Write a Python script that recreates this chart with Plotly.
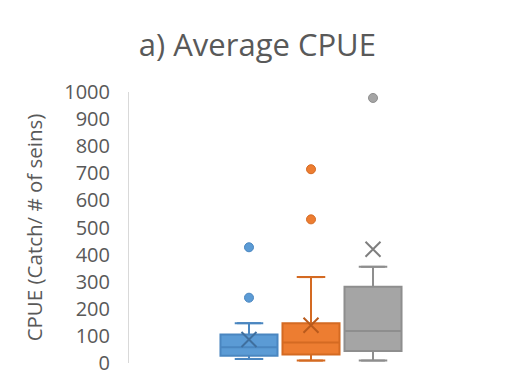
import plotly.graph_objects as go

# Data
series = ["Series 1", "Series 2", "Series 3"]
positions = [0, 1, 2]
q1 = [27, 31, 44]
median = [58, 76, 118]
q3 = [105, 147, 281]
lowerfence = [15, 9, 9]
upperfence = [147, 317, 355]
means = [87, 139, 420]
outliers = [[241, 427], [530, 715], [978]]

fills = ["#5B9BD5", "#ED7D31", "#A5A5A5"]
borders = ["#4A86C0", "#D46A22", "#8E8E8E"]
mean_colors = ["#3F6F9E", "#B95A1C", "#7F7F7F"]

fig = go.Figure()
for i in range(3):
    fig.add_trace(go.Box(
        x=[positions[i]], q1=[q1[i]], median=[median[i]], q3=[q3[i]],
        lowerfence=[lowerfence[i]], upperfence=[upperfence[i]],
        fillcolor=fills[i], line=dict(color=borders[i], width=2),
        width=0.92, boxpoints=False, name=series[i], showlegend=False,
        hoverinfo="skip",
    ))
    # whisker caps
    fig.add_trace(go.Scatter(
        x=[positions[i], positions[i]], y=[lowerfence[i], upperfence[i]],
        mode="markers",
        marker=dict(symbol="line-ew", size=17, line=dict(color=borders[i], width=2)),
        showlegend=False, hoverinfo="skip",
    ))
    # mean
    fig.add_trace(go.Scatter(
        x=[positions[i]], y=[means[i]], mode="markers",
        marker=dict(symbol="x-thin", size=15, line=dict(color=mean_colors[i], width=2)),
        showlegend=False, hoverinfo="skip",
    ))
    # outliers
    fig.add_trace(go.Scatter(
        x=[positions[i]] * len(outliers[i]), y=outliers[i], mode="markers",
        marker=dict(symbol="circle", size=9, color=fills[i], line=dict(color=borders[i], width=1)),
        showlegend=False, hoverinfo="skip",
    ))

fig.update_layout(
    width=509, height=390,
    margin=dict(l=121, r=24, t=84, b=35),
    paper_bgcolor="white", plot_bgcolor="white",
    title=dict(text="a) Average CPUE", x=0.49, xanchor="center", y=0.905, yanchor="middle",
               font=dict(family="Open Sans", size=31, color="#595959")),
    font=dict(family="Open Sans", color="#595959"),
    xaxis=dict(range=[-1.935, 3.935], showticklabels=False, showgrid=False,
               zeroline=False, showline=False, ticks=""),
    yaxis=dict(range=[0, 1000], dtick=100, showgrid=False, zeroline=False,
               showline=True, linecolor="#D9D9D9", linewidth=1, ticks="",
               ticklabelstandoff=14,
               tickfont=dict(size=20, color="#595959"),
               title=dict(text="CPUE (Catch/ # of seins)", standoff=16,
                          font=dict(size=20.5, color="#595959"))),
)

fig.write_html("out.html")
